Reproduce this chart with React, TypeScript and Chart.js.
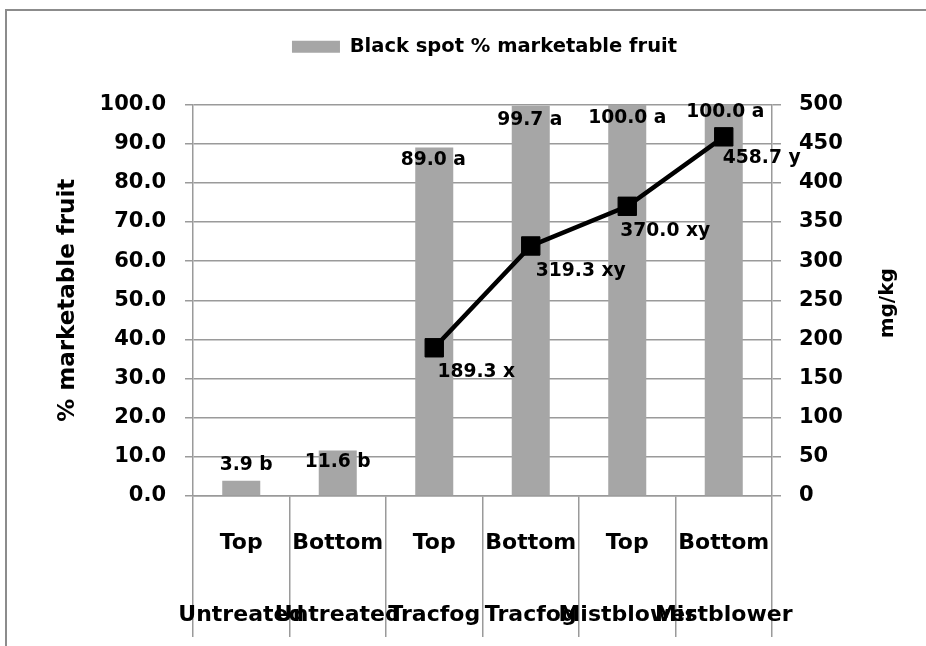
import React, { useEffect, useRef } from 'react';
import { Chart, registerables } from 'chart.js';

Chart.register(...registerables);

// ---- data ----
const positions = ['Top', 'Bottom', 'Top', 'Bottom', 'Top', 'Bottom'];
const treatments = ['Untreated', 'Untreated', 'Tracfog', 'Tracfog', 'Mistblower', 'Mistblower'];
const marketable = [3.9, 11.6, 89.0, 99.7, 100.0, 100.0];
const marketableLetters = ['b', 'b', 'a', 'a', 'a', 'a'];
const residue: (number | null)[] = [null, null, 189.3, 319.3, 370.0, 458.7];
const residueLetters = ['', '', 'x', 'xy', 'xy', 'y'];
const barSeriesName = 'Black spot % marketable fruit';
const residueSeriesName = 'Residue mg/kg';
const leftAxisTitle = '% marketable fruit';
const rightAxisTitle = 'mg/kg';

// label placement offsets (px, relative to each mark), style only
const barLabelOffsets = [[5, -16], [0, 12], [-1, 13], [-1, 14], [0, 14], [1.5, 8]];
const lineLabelOffsets = [[0, 0], [0, 0], [42, 24], [50, 25], [38, 25], [38, 21]];

const FONT = '"DejaVu Sans"';
const GRID = '#9a9a9a';
const BAR = '#a6a6a6';

export default function App() {
  const ref = useRef<HTMLCanvasElement>(null);

  useEffect(() => {
    const canvas = ref.current;
    if (!canvas) return;
    Chart.defaults.font.family = FONT;
    Chart.defaults.color = '#000';

    const framePlugin = {
      id: 'frame',
      beforeDraw(chart: any) {
        const ctx = chart.ctx;
        ctx.save();
        ctx.fillStyle = '#fff';
        ctx.fillRect(0, 0, chart.width, chart.height);
        ctx.strokeStyle = '#8c8c8c';
        ctx.lineWidth = 2;
        ctx.strokeRect(6, 10, chart.width + 100, chart.height + 100);
        ctx.restore();
      },
    };

    const labelPlugin = {
      id: 'valueLabels',
      afterDatasetsDraw(chart: any) {
        const ctx = chart.ctx;
        ctx.save();
        ctx.fillStyle = '#000';
        ctx.textAlign = 'center';
        ctx.textBaseline = 'middle';
        ctx.font = `bold 18.7px ${FONT}`;
        const barMeta = chart.getDatasetMeta(1);
        barMeta.data.forEach((el: any, i: number) => {
          const [dx, dy] = barLabelOffsets[i];
          ctx.fillText(`${marketable[i].toFixed(1)} ${marketableLetters[i]}`, el.x + dx, el.y + dy);
        });
        const lineMeta = chart.getDatasetMeta(0);
        lineMeta.data.forEach((el: any, i: number) => {
          const v = residue[i];
          if (v == null) return;
          const [dx, dy] = lineLabelOffsets[i];
          ctx.fillText(`${v.toFixed(1)} ${residueLetters[i]}`, el.x + dx, el.y + dy);
        });
        // right axis title (reads bottom-to-top)
        const ys = chart.scales.y1;
        const area = chart.chartArea;
        ctx.translate(ys.right - 38, (area.top + area.bottom) / 2 + 3);
        ctx.rotate(-Math.PI / 2);
        ctx.font = `bold 20px ${FONT}`;
        ctx.fillText(rightAxisTitle, 0, 0);
        ctx.restore();
      },
    };

    const chart = new Chart(canvas, {
      data: {
        labels: positions.map((p, i) => [p, treatments[i]]),
        datasets: [
          {
            type: 'line',
            label: residueSeriesName,
            data: residue,
            yAxisID: 'y1',
            borderColor: '#000',
            borderWidth: 4.5,
            pointStyle: 'rect',
            pointRadius: 13,
            pointBorderWidth: 1,
            pointBackgroundColor: '#000',
            pointBorderColor: '#000',
            order: 0,
          } as any,
          {
            type: 'bar',
            label: barSeriesName,
            data: marketable,
            yAxisID: 'y',
            backgroundColor: BAR,
            borderWidth: 0,
            barPercentage: 0.394,
            categoryPercentage: 1,
            order: 1,
          } as any,
        ],
      },
      options: {
        responsive: false,
        animation: false,
        devicePixelRatio: 1,
        layout: { padding: { left: 43, right: 0, top: 27, bottom: 0 } },
        plugins: {
          tooltip: { enabled: false },
          legend: {
            position: 'top',
            labels: {
              boxWidth: 48,
              boxHeight: 12,
              padding: 10,
              font: { size: 19.5, weight: 'bold' },
              filter: (item: any) => item.datasetIndex === 1,
            },
          },
          title: {
            display: true,
            text: '',
            weight: 500,
            font: { size: 1, lineHeight: 1 },
            padding: { top: 0, bottom: 37 },
          } as any,
        },
        scales: {
          x: {
            type: 'category',
            offset: true,
            grid: {
              offset: true,
              drawOnChartArea: false,
              drawTicks: true,
              tickLength: 141,
              color: GRID,
              lineWidth: 1.5,
            },
            border: { display: true, color: GRID, width: 1.5 },
            ticks: {
              autoSkip: false,
              maxRotation: 0,
              minRotation: 0,
              padding: -130,
              font: { size: 22, weight: 'bold', lineHeight: '72px' },
            },
            afterFit: (s: any) => { s.height = 150; },
          },
          y: {
            type: 'linear',
            position: 'left',
            min: 0,
            max: 100,
            grid: { color: GRID, lineWidth: 1.5, tickLength: 8 },
            border: { display: true, color: GRID, width: 1.5 },
            ticks: {
              stepSize: 10,
              padding: 19,
              font: { size: 21, weight: 'bold' },
              callback: (v: any) => Number(v).toFixed(1),
            },
            title: {
              display: true,
              text: leftAxisTitle,
              font: { size: 23, weight: 'bold' },
              padding: { top: 11, bottom: 0 },
            },
            afterFit: (s: any) => { s.width = 150; },
          },
          y1: {
            type: 'linear',
            position: 'right',
            min: 0,
            max: 500,
            grid: { drawOnChartArea: false, color: GRID, lineWidth: 1.5, tickLength: 9 },
            border: { display: true, color: GRID, width: 1.5 },
            ticks: {
              stepSize: 50,
              padding: 18,
              font: { size: 21, weight: 'bold' },
            },
            afterFit: (s: any) => { s.width = 154; },
          },
        },
      } as any,
      plugins: [framePlugin, labelPlugin],
    });

    return () => chart.destroy();
  }, []);

  return (
    <div style={{ position: 'fixed', left: 0, top: 0, width: 926, height: 646, overflow: 'hidden', background: '#fff' }}>
      <canvas
        ref={ref}
        width={926}
        height={646}
        style={{ width: 926, height: 646, display: 'block' }}
      />
    </div>
  );
}
